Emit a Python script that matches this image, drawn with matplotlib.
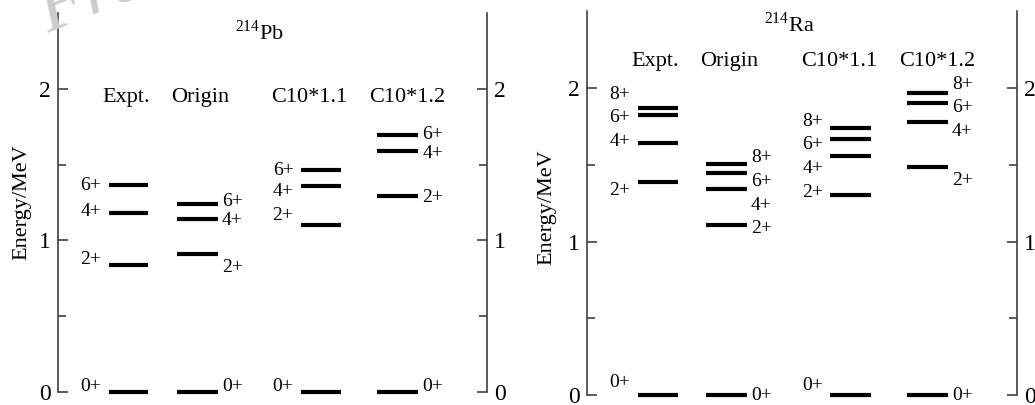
import numpy as np
import matplotlib.pyplot as plt

plt.rcParams['font.family'] = ['Liberation Serif', 'DejaVu Serif']
plt.rcParams['mathtext.fontset'] = 'custom'
plt.rcParams['mathtext.rm'] = 'Liberation Serif'

columns = ['Expt.', 'Origin', 'C10*1.1', 'C10*1.2']

# 214Pb levels (MeV), spins 0+,2+,4+,6+
pb_spins = ['0+', '2+', '4+', '6+']
pb_expt = [0.0, 0.835, 1.182, 1.367]
pb_origin = [0.0, 0.908, 1.138, 1.240]
pb_c11 = [0.0, 1.099, 1.360, 1.466]
pb_c12 = [0.0, 1.292, 1.587, 1.697]

# 214Ra levels (MeV), spins 0+,2+,4+,6+,8+
ra_spins = ['0+', '2+', '4+', '6+', '8+']
ra_expt = [0.0, 1.387, 1.642, 1.822, 1.868]
ra_origin = [0.0, 1.107, 1.341, 1.447, 1.504]
ra_c11 = [0.0, 1.300, 1.558, 1.668, 1.736]
ra_c12 = [0.0, 1.486, 1.779, 1.898, 1.965]

# where the spin labels sit (shifted so they don't overlap)
pb_lab_y = [[0.037, 0.875, 1.193, 1.363],
            [0.037, 0.824, 1.132, 1.257],
            [0.037, 1.165, 1.325, 1.462],
            [0.037, 1.286, 1.576, 1.697]]
ra_lab_y = [[0.082, 1.333, 1.649, 1.805, 1.957],
            [-0.004, 1.083, 1.237, 1.393, 1.545],
            [0.065, 1.322, 1.476, 1.632, 1.783],
            [0.0, 1.398, 1.718, 1.870, 2.022]]

# layout
bar_x = [(0.118, 0.211), (0.277, 0.372), (0.566, 0.660), (0.744, 0.839)]
lab_side = ['left', 'right', 'left', 'right']
head_x = [0.160, 0.332, 0.586, 0.815]


def draw_panel(ax, levels, spins, lab_y, title, title_y, head_y):
    for i, lev in enumerate(levels):
        x0, x1 = bar_x[i]
        ax.hlines(lev, x0, x1, color='black', lw=3.0, clip_on=False)
        for s, ly in zip(spins, lab_y[i]):
            if lab_side[i] == 'left':
                ax.text(x0 - 0.017, ly, s, ha='right', va='center', fontsize=14)
            else:
                ax.text(x1 + 0.010, ly, s, ha='left', va='center', fontsize=14)
        ax.text(head_x[i], head_y, columns[i], ha='center', va='center', fontsize=16)
    ax.text(0.47, title_y, title, ha='center', va='center', fontsize=16)
    ax.set_xlim(0, 1)
    ax.set_ylim(0, 2.5)
    ax.set_yticks([0, 1, 2])
    ax.set_yticks([0.5, 1.5], minor=True)
    ax.set_xticks([])
    for sp in ['top', 'bottom']:
        ax.spines[sp].set_visible(False)
    for sp in ['left', 'right']:
        ax.spines[sp].set_color('#404040')
        ax.spines[sp].set_linewidth(1.2)
    ax.tick_params(axis='y', which='both', direction='in', left=True, right=True,
                   labelleft=True, labelright=True, color='#404040', width=1.2)
    ax.tick_params(axis='y', which='major', length=7, labelsize=17, pad=5)
    ax.tick_params(axis='y', which='minor', length=6)
    ax.set_ylabel('Energy/MeV', fontsize=16)


fig = plt.figure(figsize=(10.35, 4.05), dpi=100)
ax1 = fig.add_axes([0.056, 0.032, 0.4145, 0.936])
ax2 = fig.add_axes([0.567, 0.024, 0.4155, 0.949])

draw_panel(ax1, [pb_expt, pb_origin, pb_c11, pb_c12], pb_spins, pb_lab_y,
           r'$^{214}\mathrm{Pb}$', 2.37, 1.94)
draw_panel(ax2, [ra_expt, ra_origin, ra_c11, ra_c12], ra_spins, ra_lab_y,
           r'$^{214}\mathrm{Ra}$', 2.41, 2.17)
ax1.yaxis.set_label_coords(-0.062, 0.5)
ax2.yaxis.set_label_coords(-0.07, 0.49)

# faint watermark in the corner, mostly cut by the top edge
fig.text(0.046, 0.918, 'Fre', fontsize=55, color='#cccccc', style='italic',
         rotation=22, rotation_mode='anchor', ha='left', va='baseline', zorder=0)

fig.savefig('out.png', dpi=100)
